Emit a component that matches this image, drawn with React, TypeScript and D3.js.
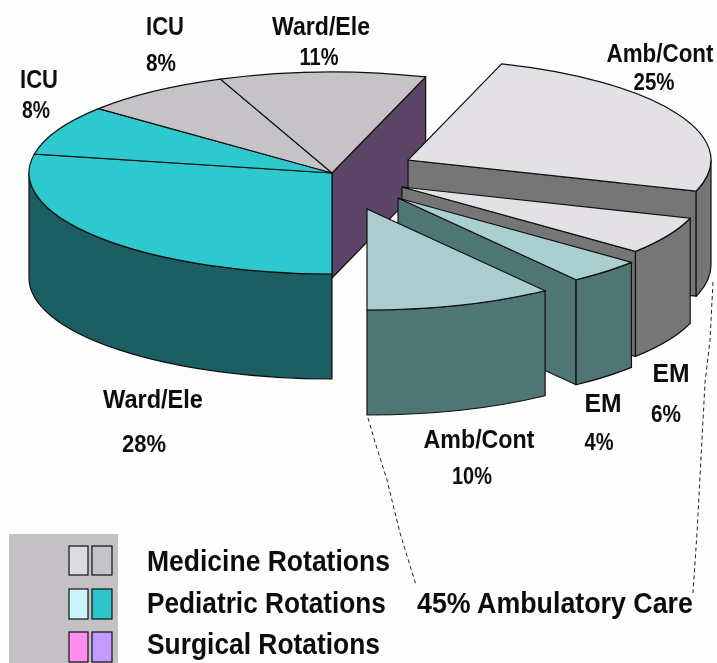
import { useLayoutEffect, useRef } from "react";
import * as d3 from "d3";

// rotation shares, clockwise starting at the big Amb/Cont slice
const sliceNames = ["Amb/Cont", "EM", "EM", "Amb/Cont", "Ward/Ele", "ICU", "ICU", "Ward/Ele"];
const sliceValues = [25, 6, 4, 10, 28, 8, 8, 11];
const legendNames = ["Medicine Rotations", "Pediatric Rotations", "Surgical Rotations"];
const ambulatoryNote = "45% Ambulatory Care";

// layout and styling, per slice
const blockCenters = [[408, 160], [402, 187], [398, 198], [367, 209], [332, 173], [332, 173], [332, 173], [332, 173]];
const topFills = ["#e3e1e6", "#e3e1e6", "#a9cfd1", "#abcdd0", "#2fc9cf", "#2fc9cf", "#c6c3c8", "#c6c3c8"];
const rimFills = ["#777676", "#777676", "#4f7474", "#4f7474", "#1a5f62", "#1a5f62", "#777676", "#777676"];
const cutFills = ["#777676", "#777676", "#4f7474", null, null, null, null, "#5d4468"];
const labelAnchors = [[660, 62], [671, 382], [603, 412], [479, 448], [153, 408], [39, 88], [165, 35], [321, 35]];
const labelWidths = [107, 37, 37, 111, 100, 38, 38, 98];
const valueAnchors = [[654, 90], [666, 422], [599, 450], [472, 484], [144, 452], [36, 118], [161, 71], [319, 65]];
const valueWidths = [41, 30, 29, 40, 44, 28, 30, 39];
const legendSwatches = [["#dcdadf", "#c6c3c8"], ["#c9f7f9", "#2cc4c9"], ["#ff8ef0", "#c39aff"]];
const legendSwatchY = [[546, 29], [589, 30], [632, 30]];
const legendTextY = [571, 613, 654];
const legendTextWidths = [243, 239, 233];
const leftLeader = [[368, 418], [375, 442], [387, 480], [400, 533], [416, 585]];
const rightLeader = [[713, 282], [710, 340], [705, 383], [700, 477], [697, 533], [693, 593]];

const rx = 303;
const ry = 101;
const depth = 105;
const FONT = "'Liberation Sans', Arial, sans-serif";

const pie = d3
  .pie<number>()
  .sort(null)
  .startAngle((18 * Math.PI) / 180)
  .endAngle((378 * Math.PI) / 180);
const arcs = pie(sliceValues);
const topArc = d3.arc<d3.PieArcDatum<number>>().innerRadius(0).outerRadius(rx);
const leaderLine = d3.line().curve(d3.curveLinear);

function onRim(c: number[], a: number, drop = 0): string {
  return `${c[0] + rx * Math.sin(a)},${c[1] - ry * Math.cos(a) + drop}`;
}

// visible part of the outer wall, only the front half of the ellipse shows
function rimPath(c: number[], a0: number, a1: number) {
  const from = Math.max(a0, Math.PI / 2);
  const to = Math.min(a1, (3 * Math.PI) / 2);
  if (to <= from) return null;
  return (
    `M${onRim(c, from)} A${rx},${ry} 0 0 1 ${onRim(c, to)}` +
    ` L${onRim(c, to, depth)} A${rx},${ry} 0 0 0 ${onRim(c, from, depth)} Z`
  );
}

// the reference text is condensed, so squeeze each string to its measured width
function FitText({ x, y, width, size, anchor = "start", children }: { x: number; y: number; width: number; size: number; anchor?: string; children: any }) {
  const ref = useRef<SVGTextElement>(null);
  useLayoutEffect(() => {
    const el = ref.current;
    if (!el) return;
    const sx = width / el.getComputedTextLength();
    el.setAttribute("transform", `translate(${x},${y}) scale(${sx},1)`);
  }, [x, y, width]);
  return (
    <text ref={ref} transform={`translate(${x},${y})`} fontSize={size} fontWeight="bold" fill="#111" textAnchor={anchor}>
      {children}
    </text>
  );
}

function Slice({ i }: { i: number }) {
  const d = arcs[i];
  const c = blockCenters[i];
  const rim = rimPath(c, d.startAngle, d.endAngle);
  const cut = cutFills[i];
  return (
    <g stroke="#111" strokeWidth={1.2} strokeLinejoin="round">
      {cut && (
        <path
          d={`M${c[0]},${c[1]} L${onRim(c, d.endAngle)} L${onRim(c, d.endAngle, depth)} L${c[0]},${c[1] + depth} Z`}
          fill={cut}
        />
      )}
      {rim && <path d={rim} fill={rimFills[i]} />}
    </g>
  );
}

function SliceTop({ i }: { i: number }) {
  const c = blockCenters[i];
  return (
    <path
      d={topArc(arcs[i]) || ""}
      transform={`translate(${c[0]},${c[1]}) scale(1,${ry / rx})`}
      fill={topFills[i]}
      stroke="#111"
      strokeWidth={1.2}
      vectorEffect="non-scaling-stroke"
    />
  );
}

export default function App() {
  // main block first, then the pulled out pieces back to front
  const paintOrder = [[4, 5, 6, 7], [0], [1], [2], [3]];
  return (
    <svg
      width={717}
      height={663}
      style={{ position: "absolute", left: 0, top: 0, background: "#fefdfe" }}
      fontFamily={FONT}
    >
      <defs>
        <filter id="soft" x="-2%" y="-2%" width="104%" height="104%">
          <feGaussianBlur stdDeviation={0.35} />
        </filter>
      </defs>
      <g filter="url(#soft)">
        {paintOrder.map((block, b) => (
          <g key={b}>
            {block.map((i) => <Slice key={i} i={i} />)}
            {block.map((i) => <SliceTop key={i} i={i} />)}
          </g>
        ))}

        <path d={leaderLine(leftLeader as [number, number][]) || ""} fill="none" stroke="#222" strokeWidth={1} strokeDasharray="4,3" />
        <path d={leaderLine(rightLeader as [number, number][]) || ""} fill="none" stroke="#222" strokeWidth={1} strokeDasharray="4,3" />

        {sliceNames.map((name, i) => (
          <g key={i}>
            <FitText x={labelAnchors[i][0]} y={labelAnchors[i][1]} width={labelWidths[i]} size={26} anchor="middle">{name}</FitText>
            <FitText x={valueAnchors[i][0]} y={valueAnchors[i][1]} width={valueWidths[i]} size={23} anchor="middle">{sliceValues[i]}%</FitText>
          </g>
        ))}

        <rect x={9} y={534} width={109} height={129} fill="#c3c1c4" />
        {legendNames.map((name, i) => (
          <g key={name}>
            <rect x={69} y={legendSwatchY[i][0]} width={19} height={legendSwatchY[i][1]} fill={legendSwatches[i][0]} stroke="#111" strokeWidth={1.2} />
            <rect x={92} y={legendSwatchY[i][0]} width={20} height={legendSwatchY[i][1]} fill={legendSwatches[i][1]} stroke="#111" strokeWidth={1.2} />
            <FitText x={147} y={legendTextY[i]} width={legendTextWidths[i]} size={30}>{name}</FitText>
          </g>
        ))}
        <FitText x={417} y={613} width={276} size={30}>{ambulatoryNote}</FitText>
      </g>
    </svg>
  );
}
